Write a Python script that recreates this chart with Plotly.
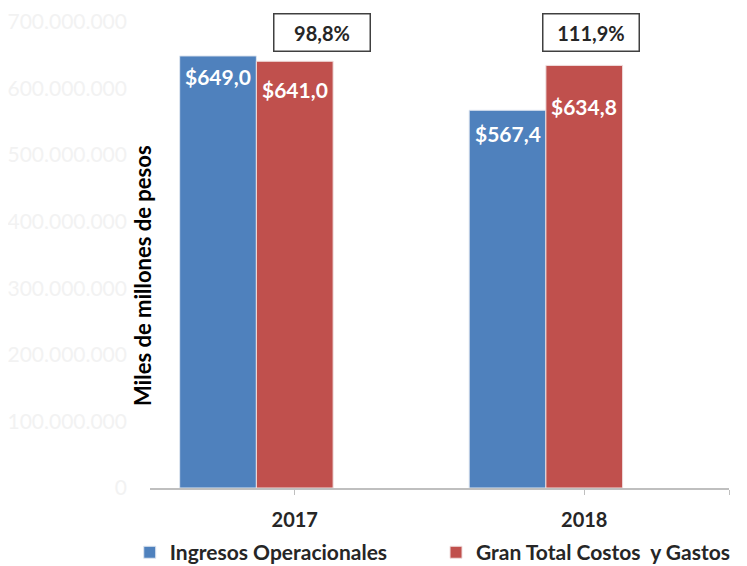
import plotly.graph_objects as go

years = ["2017", "2018"]
ingresos = [649.0e6, 567.4e6]
costos = [641.0e6, 634.8e6]
ingresos_labels = ["$649,0", "$567,4"]
costos_labels = ["$641,0", "$634,8"]
ratios = ["98,8%", "111,9%"]
yticks = [0, 100e6, 200e6, 300e6, 400e6, 500e6, 600e6, 700e6]

BLUE = "#4F81BD"
RED = "#C0504D"
FONT = "Lato"
xpos = [0, 1]
bw = 0.265

fig = go.Figure()
fig.add_trace(go.Bar(x=xpos, y=ingresos, name="Ingresos Operacionales", legend="legend",
                     marker=dict(color=BLUE, line=dict(color="#dfe6f0", width=1)),
                     width=bw, offset=-1.5 * bw))
fig.add_trace(go.Bar(x=xpos, y=costos, name="Gran Total Costos  y Gastos", legend="legend2",
                     marker=dict(color=RED, line=dict(color="#f0dede", width=1)),
                     width=bw, offset=-0.5 * bw))

# data labels inside bars
blue_shift = [-21, -23]
red_shift = [-28, -41]
lab_font = dict(family=FONT, size=21, color="white", weight="bold")
for i, x in enumerate(xpos):
    fig.add_annotation(x=x - bw, y=ingresos[i], text=ingresos_labels[i], showarrow=False,
                       yshift=blue_shift[i], font=lab_font)
    fig.add_annotation(x=x, y=costos[i], text=costos_labels[i], showarrow=False,
                       yshift=red_shift[i], font=lab_font)

# ratio boxes
box_x = [0.094, 1.023]
for i, r in enumerate(ratios):
    fig.add_annotation(x=box_x[i], y=0.977, yref="paper", xanchor="center", yanchor="middle",
                       text=r, showarrow=False,
                       width=93, height=34, bordercolor="#404040", borderwidth=1.5,
                       borderpad=1, bgcolor="white",
                       font=dict(family=FONT, size=20, color="#262626", weight="bold"))

fig.add_annotation(x=-0.012, y=0.455, xref="paper", yref="paper", textangle=-90,
                   xanchor="center", yanchor="middle",
                   text="Miles de millones de pesos", showarrow=False,
                   font=dict(family=FONT, size=22, color="black", weight="bold"))

leg_font = dict(family=FONT, size=21, color="#262626", weight="bold")
fig.update_layout(
    width=739, height=558,
    margin=dict(l=142, r=18, t=14, b=78),
    plot_bgcolor="white", paper_bgcolor="white",
    barmode="overlay",
    separators=",.",
    font=dict(family=FONT),
    showlegend=True,
    legend=dict(orientation="h", x=-0.035, y=0.024, xref="paper", yref="container",
                xanchor="left", yanchor="middle", font=leg_font),
    legend2=dict(orientation="h", x=0.494, y=0.024, xref="paper", yref="container",
                 xanchor="left", yanchor="middle", font=leg_font),
    xaxis=dict(range=[-0.5, 1.5], tickvals=[0, 1, 1.5], ticktext=years + [""],
               showline=True, linecolor="#bfbfbf", linewidth=1.5, automargin=False,
               ticks="outside", ticklen=5, tickcolor="#bfbfbf", showgrid=False,
               zeroline=False, ticklabelstandoff=8,
               tickfont=dict(family=FONT, size=20, color="#262626", weight="bold")),
    yaxis=dict(range=[0, 700e6], tickvals=yticks, tickformat=",d", showgrid=False,
               zeroline=False, showline=False, ticklabelstandoff=22, automargin=False,
               tickfont=dict(family=FONT, size=21, color="#f2f2f2")),
)

fig.write_html("out.html")
